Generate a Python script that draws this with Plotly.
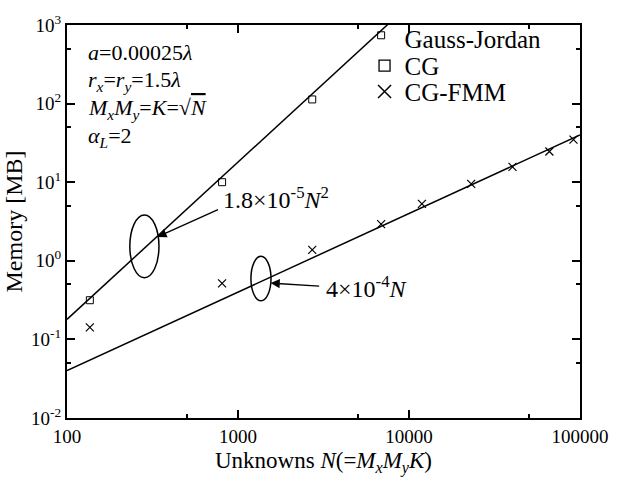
import plotly.graph_objects as go

# Memory use versus number of unknowns
cg_n = [136, 807, 2717, 6870]
cg_mem = [0.315, 10.0, 113, 740]
fmm_n = [136, 807, 2717, 6870, 11900, 23100, 40300, 66200, 91600]
fmm_mem = [0.142, 0.515, 1.38, 2.93, 5.3, 9.5, 15.7, 24.6, 34.8]

# Fitted scaling laws: memory = coef * N^power
fit_n = [100, 100000]
dense_coef, dense_pow = 1.8e-5, 2
fmm_coef, fmm_pow = 4e-4, 1

x_ticks = [100, 1000, 10000, 100000]
x_ticktext = ["100", "1000", "10000", "100000"]
y_ticks = [1e-2, 1e-1, 1e0, 1e1, 1e2, 1e3]
y_ticktext = ["10<sup>-2</sup>", "10<sup>-1</sup>", "10<sup>0</sup>",
              "10<sup>1</sup>", "10<sup>2</sup>", "10<sup>3</sup>"]
x_minor = [500, 5000, 50000]
y_minor = [0.05, 0.5, 5, 50, 500]

param_lines = [
    "<i>a</i>=0.00025<i>λ</i>",
    "<i>r</i><sub><i>x</i></sub>=<i>r</i><sub><i>y</i></sub>=1.5<i>λ</i>",
    "<i>M</i><sub><i>x</i></sub><i>M</i><sub><i>y</i></sub>=<i>K</i>=√"
    "<span style='text-decoration:overline'><i>N</i></span>",
    "<i>α</i><sub><i>L</i></sub>=2",
]

FONT = "Liberation Serif"
INK = "black"

fig = go.Figure()

# fitted lines
fig.add_trace(go.Scatter(
    x=fit_n, y=[dense_coef * n ** dense_pow for n in fit_n],
    mode="lines", line=dict(color=INK, width=1.5), showlegend=False))
fig.add_trace(go.Scatter(
    x=fit_n, y=[fmm_coef * n ** fmm_pow for n in fit_n],
    mode="lines", line=dict(color=INK, width=1.5), showlegend=False))

# measured points
fig.add_trace(go.Scatter(
    x=cg_n, y=cg_mem, mode="markers", showlegend=False,
    marker=dict(symbol="square-open", size=7, color=INK, line=dict(width=1))))
fig.add_trace(go.Scatter(
    x=fmm_n, y=fmm_mem, mode="markers", showlegend=False,
    marker=dict(symbol="x-thin-open", size=8, color=INK, line=dict(width=1.2, color=INK))))

# legend entries
fig.add_trace(go.Scatter(
    x=[None], y=[None], mode="markers", name="Gauss-Jordan", legend="legend",
    marker=dict(symbol="square-open", size=11, color="rgba(0,0,0,0)",
                line=dict(width=0, color="rgba(0,0,0,0)"))))
fig.add_trace(go.Scatter(
    x=[None], y=[None], mode="markers", name="CG", legend="legend2",
    marker=dict(symbol="square-open", size=11, color=INK, line=dict(width=1.3))))
fig.add_trace(go.Scatter(
    x=[None], y=[None], mode="markers", name="CG-FMM", legend="legend3",
    marker=dict(symbol="x-thin-open", size=13, color=INK, line=dict(width=1.5, color=INK))))

legend_common = dict(xanchor="left", yanchor="middle", bgcolor="rgba(0,0,0,0)",
                     font=dict(family=FONT, size=25, color=INK),
                     itemwidth=30)

axis_common = dict(type="log", showline=True, linewidth=2, linecolor=INK,
                   mirror="ticks", ticks="inside", ticklen=8, tickwidth=1.5,
                   tickcolor=INK, showgrid=False, zeroline=False)

fig.update_layout(
    width=630, height=481,
    margin=dict(l=66, r=50, t=16, b=57),
    paper_bgcolor="white", plot_bgcolor="white",
    font=dict(family=FONT, color=INK),
    xaxis=dict(**axis_common, range=[2, 5],
               tickvals=x_ticks, ticktext=x_ticktext,
               tickfont=dict(family=FONT, size=19, color=INK),
               minor=dict(tickvals=x_minor, ticks="inside", ticklen=4,
                          tickwidth=1.5, tickcolor=INK),
               title=dict(text="Unknowns <i>N</i>(=<i>M</i><sub><i>x</i></sub><i>M</i>"
                               "<sub><i>y</i></sub><i>K</i>)",
                          font=dict(family=FONT, size=23, color=INK), standoff=6)),
    yaxis=dict(**axis_common, range=[-2, 3],
               tickvals=y_ticks, ticktext=y_ticktext,
               tickfont=dict(family=FONT, size=19, color=INK),
               minor=dict(tickvals=y_minor, ticks="inside", ticklen=4,
                          tickwidth=1.5, tickcolor=INK),
               title=dict(text="Memory [MB]",
                          font=dict(family=FONT, size=24, color=INK), standoff=2)),
    legend=dict(**legend_common, x=0.58, y=0.965),
    legend2=dict(**legend_common, x=0.58, y=0.896),
    legend3=dict(**legend_common, x=0.58, y=0.83),
)

# parameter block, one line per annotation
for i, line in enumerate(param_lines):
    fig.add_annotation(xref="paper", yref="paper", x=0.037, y=0.929 - 0.071 * i,
                       xanchor="left", yanchor="middle", align="left", showarrow=False,
                       text=line, font=dict(family=FONT, size=22, color=INK))

# scaling-law callouts: ellipse around each line, arrow to its label
fig.add_shape(type="circle", xref="x", yref="y", x0=233, x1=345, y0=0.61, y1=3.83,
              line=dict(color=INK, width=1.5))
fig.add_shape(type="circle", xref="x", yref="y", x0=1190, x1=1560, y0=0.31, y1=1.14,
              line=dict(color=INK, width=1.5))

fig.add_annotation(x=2.529, y=0.304, xref="x", yref="y", ax=62, ay=-28,
                   text="", showarrow=True, arrowhead=2, arrowsize=1.4,
                   arrowwidth=1.3, arrowcolor=INK, standoff=0)
fig.add_annotation(x=3.191, y=-0.284, xref="x", yref="y", ax=50, ay=3,
                   text="", showarrow=True, arrowhead=2, arrowsize=1.4,
                   arrowwidth=1.3, arrowcolor=INK, standoff=0)

fig.add_annotation(x=2.903, y=0.8, xref="x", yref="y", xanchor="left", yanchor="middle",
                   showarrow=False,
                   text="1.8×10<sup>-5</sup><i>N</i><sup>2</sup>",
                   font=dict(family=FONT, size=24, color=INK))
fig.add_annotation(x=3.5, y=-0.33, xref="x", yref="y", xanchor="left", yanchor="middle",
                   showarrow=False,
                   text="4×10<sup>-4</sup><i>N</i>",
                   font=dict(family=FONT, size=24, color=INK))

fig.write_html("out.html")
